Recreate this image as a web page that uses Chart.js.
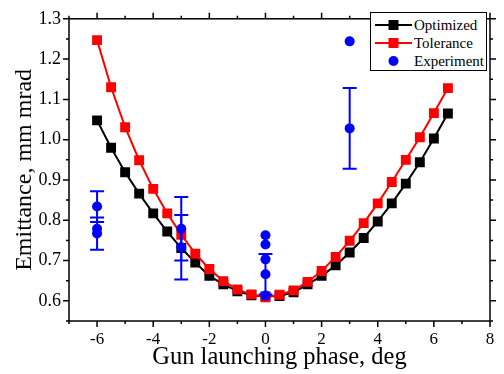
<!DOCTYPE html>
<html>
<head>
<meta charset="utf-8">
<script src="https://cdn.jsdelivr.net/npm/chart.js@4/dist/chart.umd.min.js"></script>
<style>
  html, body { margin: 0; padding: 0; background: #fff; }
  #wrap { position: relative; width: 504px; height: 374px; }
  #legend {
    position: absolute; left: 370px; top: 12px; width: 117px; height: 59px;
    border: 1px solid #000; background: #fff; box-sizing: border-box;
    font-family: 'Liberation Serif', 'Times New Roman', serif; font-size: 15px; color: #000;
  }
  #legend .row { position: absolute; left: 0; height: 18px; line-height: 18px; white-space: nowrap; }
  #legend svg { position: absolute; left: 4px; top: 2px; }
  #legend span { position: absolute; left: 43px; top: 0; }
</style>
</head>
<body>
<div id="wrap">
  <canvas id="c" width="504" height="374"></canvas>
  <div id="legend">
    <div class="row" style="top:3px"><svg width="38" height="14"><line x1="0" y1="7" x2="37" y2="7" stroke="#000" stroke-width="2"/><rect x="13.5" y="2" width="10" height="10" fill="#000"/></svg><span>Optimized</span></div>
    <div class="row" style="top:21px"><svg width="38" height="14"><line x1="0" y1="7" x2="37" y2="7" stroke="#ff0000" stroke-width="2"/><rect x="13.5" y="2" width="10" height="10" fill="#ff0000"/></svg><span>Tolerance</span></div>
    <div class="row" style="top:39px"><svg width="38" height="14"><circle cx="18.5" cy="7" r="5" fill="#0000ff"/></svg><span>Experiment</span></div>
  </div>
</div>
<script>
// ---- data ----
const phase = [-6, -5.5, -5, -4.5, -4, -3.5, -3, -2.5, -2, -1.5, -1, -0.5, 0, 0.5, 1, 1.5, 2, 2.5, 3, 3.5, 4, 4.5, 5, 5.5, 6, 6.5];
const optimized = [1.048, 0.980, 0.919, 0.866, 0.817, 0.772, 0.731, 0.695, 0.662, 0.641, 0.624, 0.614, 0.611, 0.612, 0.621, 0.641, 0.662, 0.688, 0.720, 0.756, 0.797, 0.842, 0.891, 0.944, 1.003, 1.065];
const tolerance = [1.247, 1.130, 1.031, 0.949, 0.878, 0.817, 0.764, 0.717, 0.679, 0.649, 0.628, 0.616, 0.609, 0.615, 0.626, 0.647, 0.674, 0.709, 0.749, 0.793, 0.842, 0.895, 0.950, 1.006, 1.066, 1.128];
const expPhase = [-6, -6, -6, -3, -3, 0, 0, 0, 0, 0, 3, 3];
const expValue = [0.834, 0.779, 0.767, 0.779, 0.733, 0.763, 0.740, 0.703, 0.666, 0.613, 1.244, 1.028];
const expError = [0.038, 0, 0.040, 0.079, 0.080, 0, 0, 0, 0.050, 0, 0, 0.100];
const xTickLabels = [-6, -4, -2, 0, 2, 4, 6, 8];
const yTickLabels = [0.6, 0.7, 0.8, 0.9, 1.0, 1.1, 1.2, 1.3];
const xRange = [-7, 8];
const yRange = [0.55, 1.3];

const FONT = "'Liberation Serif', 'Times New Roman', serif";

const errorBars = {
  id: 'errorBars',
  afterDatasetsDraw(chart) {
    const { ctx, scales: { x, y } } = chart;
    ctx.save();
    ctx.strokeStyle = '#0000ff';
    ctx.lineWidth = 2;
    for (let i = 0; i < expPhase.length; i++) {
      const e = expError[i];
      if (!e) continue;
      const px = x.getPixelForValue(expPhase[i]);
      const top = y.getPixelForValue(expValue[i] + e);
      const bot = y.getPixelForValue(expValue[i] - e);
      ctx.beginPath();
      ctx.moveTo(px, top); ctx.lineTo(px, bot);
      ctx.moveTo(px - 7, top); ctx.lineTo(px + 7, top);
      ctx.moveTo(px - 7, bot); ctx.lineTo(px + 7, bot);
      ctx.stroke();
    }
    ctx.restore();
  }
};

const frame = {
  id: 'frame',
  afterDraw(chart) {
    const { ctx, chartArea: a, scales: { x, y } } = chart;
    ctx.save();
    ctx.strokeStyle = '#000';
    ctx.lineWidth = 1.5;
    ctx.strokeRect(a.left, a.top, a.right - a.left, a.bottom - a.top);
    ctx.beginPath();
    for (let v = xRange[0]; v <= xRange[1] + 1e-9; v += 1) {
      const px = x.getPixelForValue(v);
      const len = (Math.round(v) % 2 === 0) ? 6 : 3;
      ctx.moveTo(px, a.bottom); ctx.lineTo(px, a.bottom + len);
      ctx.moveTo(px, a.top); ctx.lineTo(px, a.top - len);
    }
    for (let k = 0; k <= 15; k++) {
      const v = yRange[0] + k * 0.05;
      const py = y.getPixelForValue(v);
      const len = (k % 2 === 1) ? 6 : 3;
      ctx.moveTo(a.left, py); ctx.lineTo(a.left - len, py);
      ctx.moveTo(a.right, py); ctx.lineTo(a.right + len, py);
    }
    ctx.stroke();
    ctx.restore();
  }
};

new Chart(document.getElementById('c'), {
  type: 'line',
  data: {
    datasets: [
      {
        label: 'Experiment',
        data: expPhase.map((p, i) => ({ x: p, y: expValue[i] })),
        showLine: false,
        pointStyle: 'circle',
        pointRadius: 5,
        pointBackgroundColor: '#0000ff',
        pointBorderColor: '#0000ff',
        pointBorderWidth: 0,
        order: 0
      },
      {
        label: 'Tolerance',
        data: phase.map((p, i) => ({ x: p, y: tolerance[i] })),
        borderColor: '#ff0000',
        borderWidth: 2,
        pointStyle: 'rect',
        pointRadius: 7,
        pointBackgroundColor: '#ff0000',
        pointBorderColor: '#ff0000',
        pointBorderWidth: 0,
        order: 1
      },
      {
        label: 'Optimized',
        data: phase.map((p, i) => ({ x: p, y: optimized[i] })),
        borderColor: '#000000',
        borderWidth: 2,
        pointStyle: 'rect',
        pointRadius: 7,
        pointBackgroundColor: '#000000',
        pointBorderColor: '#000000',
        pointBorderWidth: 0,
        order: 2
      }
    ]
  },
  options: {
    responsive: false,
    animation: false,
    layout: { padding: { top: 12, right: 14, left: 10, bottom: 0 } },
    plugins: { legend: { display: false }, tooltip: { enabled: false } },
    scales: {
      x: {
        type: 'linear',
        min: xRange[0], max: xRange[1],
        afterBuildTicks: s => { s.ticks = xTickLabels.map(v => ({ value: v })); },
        afterFit: s => { s.height = 53; },
        grid: { display: false, drawTicks: false },
        border: { display: false },
        ticks: { color: '#000', font: { family: FONT, size: 17 }, padding: 8, maxRotation: 0, autoSkip: false,
                 callback: v => String(v) },
        title: { display: true, text: 'Gun launching phase, deg', color: '#000', font: { family: FONT, size: 24.5 }, padding: { top: 0, bottom: 2 } }
      },
      y: {
        type: 'linear',
        min: yRange[0], max: yRange[1],
        afterBuildTicks: s => { s.ticks = yTickLabels.map(v => ({ value: v })); },
        afterFit: s => { s.width = 59; },
        grid: { display: false, drawTicks: false },
        border: { display: false },
        ticks: { color: '#000', font: { family: FONT, size: 18 }, padding: 8, autoSkip: false,
                 callback: v => Number(v).toFixed(1) },
        title: { display: true, text: 'Emittance, mm mrad', color: '#000', font: { family: FONT, size: 24 }, padding: { top: 0, bottom: 0 } }
      }
    }
  },
  plugins: [errorBars, frame]
});
</script>
</body>
</html>
